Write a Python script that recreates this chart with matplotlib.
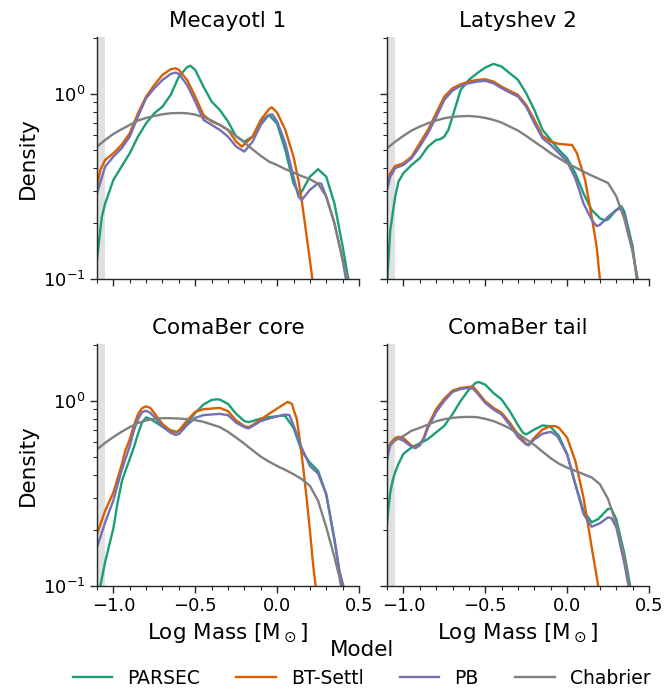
import matplotlib
matplotlib.use("Agg")
import matplotlib.pyplot as plt
from matplotlib.ticker import MultipleLocator, LogLocator, NullFormatter
from matplotlib.lines import Line2D

plt.rcParams['font.family'] = ['DejaVu Sans']

panels = ["Mecayotl 1", "Latyshev 2", "ComaBer core", "ComaBer tail"]
models = ["PARSEC", "BT-Settl", "PB", "Chabrier"]
colors = ["#1b9e77", "#d95f02", "#7570b3", "#808080"]

# (log mass, density) pairs
# ---- Mecayotl 1 ----
mec_parsec = [(-1.1, 0.127), (-1.08, 0.184), (-1.07, 0.217), (-1.05, 0.256), (-1.0, 0.343), (-0.95, 0.405),
              (-0.9, 0.478), (-0.85, 0.588), (-0.8, 0.694), (-0.75, 0.786), (-0.7, 0.854), (-0.65, 0.988),
              (-0.6, 1.24), (-0.55, 1.394), (-0.53, 1.42), (-0.5, 1.348), (-0.45, 1.095), (-0.4, 0.909),
              (-0.35, 0.819), (-0.3, 0.709), (-0.25, 0.588), (-0.2, 0.552), (-0.15, 0.588), (-0.1, 0.709),
              (-0.05, 0.770), (0.0, 0.690), (0.05, 0.498), (0.1, 0.329), (0.135, 0.287), (0.15, 0.296),
              (0.2, 0.357), (0.25, 0.392), (0.3, 0.357), (0.35, 0.256), (0.4, 0.150), (0.435, 0.1), (0.45, 0.08)]
mec_bts = [(-1.1, 0.316), (-1.08, 0.388), (-1.05, 0.440), (-1.0, 0.478), (-0.95, 0.530), (-0.9, 0.613),
           (-0.85, 0.786), (-0.8, 0.967), (-0.75, 1.118), (-0.7, 1.267), (-0.65, 1.36), (-0.62, 1.376),
           (-0.6, 1.348), (-0.55, 1.19), (-0.5, 0.967), (-0.45, 0.770), (-0.4, 0.709), (-0.35, 0.680),
           (-0.3, 0.639), (-0.25, 0.552), (-0.215, 0.519), (-0.15, 0.588), (-0.1, 0.724), (-0.05, 0.826),
           (-0.033, 0.847), (0.0, 0.793), (0.05, 0.639), (0.1, 0.458), (0.13, 0.343), (0.15, 0.267),
           (0.175, 0.184), (0.2, 0.127), (0.215, 0.1), (0.225, 0.085)]
mec_pb = [(-1.1, 0.290), (-1.05, 0.405), (-1.0, 0.458), (-0.95, 0.508), (-0.9, 0.588), (-0.85, 0.754),
          (-0.8, 0.948), (-0.75, 1.073), (-0.7, 1.19), (-0.65, 1.282), (-0.62, 1.304), (-0.6, 1.282),
          (-0.55, 1.118), (-0.5, 0.909), (-0.45, 0.724), (-0.4, 0.680), (-0.35, 0.639), (-0.3, 0.588),
          (-0.25, 0.519), (-0.2, 0.488), (-0.15, 0.552), (-0.1, 0.680), (-0.05, 0.770), (-0.03, 0.776),
          (0.0, 0.709), (0.05, 0.541), (0.1, 0.357), (0.13, 0.279), (0.15, 0.267), (0.2, 0.303),
          (0.25, 0.329), (0.27, 0.327), (0.3, 0.279), (0.35, 0.2), (0.4, 0.127), (0.42, 0.1), (0.43, 0.085)]
mec_chab = [(-1.1, 0.519), (-1.05, 0.564), (-1.0, 0.608), (-0.95, 0.644), (-0.9, 0.680), (-0.85, 0.718),
            (-0.8, 0.742), (-0.75, 0.760), (-0.7, 0.776), (-0.65, 0.786), (-0.6, 0.789), (-0.55, 0.786),
            (-0.5, 0.773), (-0.45, 0.748), (-0.4, 0.718), (-0.35, 0.680), (-0.3, 0.639), (-0.25, 0.593),
            (-0.2, 0.546), (-0.15, 0.502), (-0.1, 0.463), (-0.05, 0.431), (0.0, 0.413), (0.05, 0.392),
            (0.1, 0.376), (0.15, 0.360), (0.2, 0.346), (0.25, 0.327), (0.3, 0.279), (0.35, 0.2),
            (0.4, 0.127), (0.43, 0.1), (0.44, 0.085)]

# ---- Latyshev 2 ----
lat_parsec = [(-1.1, 0.095), (-1.08, 0.184), (-1.05, 0.279), (-1.03, 0.336), (-1.0, 0.373), (-0.95, 0.413),
              (-0.9, 0.449), (-0.85, 0.519), (-0.8, 0.564), (-0.775, 0.569), (-0.75, 0.588), (-0.725, 0.639),
              (-0.7, 0.754), (-0.65, 1.051), (-0.6, 1.19), (-0.55, 1.293), (-0.5, 1.388), (-0.45, 1.453),
              (-0.4, 1.405), (-0.35, 1.293), (-0.3, 1.19), (-0.25, 1.008), (-0.2, 0.819), (-0.15, 0.639),
              (-0.1, 0.564), (-0.05, 0.498), (0.0, 0.449), (0.05, 0.373), (0.1, 0.290), (0.15, 0.236),
              (0.2, 0.213), (0.23, 0.207), (0.25, 0.210), (0.3, 0.236), (0.33, 0.248), (0.35, 0.231),
              (0.4, 0.150), (0.425, 0.1), (0.44, 0.08)]
lat_bts = [(-1.1, 0.316), (-1.08, 0.373), (-1.05, 0.408), (-1.0, 0.422), (-0.95, 0.458), (-0.9, 0.541),
           (-0.85, 0.639), (-0.8, 0.786), (-0.75, 0.967), (-0.7, 1.073), (-0.65, 1.128), (-0.6, 1.166),
           (-0.55, 1.19), (-0.5, 1.20), (-0.45, 1.166), (-0.4, 1.095), (-0.35, 1.038), (-0.3, 0.988),
           (-0.25, 0.872), (-0.2, 0.724), (-0.15, 0.593), (-0.1, 0.552), (-0.05, 0.537), (0.0, 0.532),
           (0.03, 0.530), (0.06, 0.478), (0.11, 0.343), (0.15, 0.217), (0.18, 0.150), (0.2, 0.1), (0.21, 0.085)]
lat_pb = [(-1.1, 0.303), (-1.08, 0.357), (-1.05, 0.397), (-1.0, 0.413), (-0.95, 0.449), (-0.9, 0.519),
          (-0.85, 0.613), (-0.8, 0.748), (-0.75, 0.928), (-0.7, 1.042), (-0.65, 1.105), (-0.6, 1.142),
          (-0.55, 1.166), (-0.5, 1.176), (-0.45, 1.142), (-0.4, 1.073), (-0.35, 1.017), (-0.3, 0.967),
          (-0.25, 0.854), (-0.2, 0.694), (-0.15, 0.576), (-0.1, 0.530), (-0.05, 0.478), (0.0, 0.431),
          (0.05, 0.350), (0.1, 0.256), (0.15, 0.209), (0.18, 0.193), (0.2, 0.196), (0.25, 0.217),
          (0.3, 0.236), (0.33, 0.241), (0.35, 0.222), (0.4, 0.143), (0.43, 0.1), (0.44, 0.085)]
lat_chab = [(-1.1, 0.508), (-1.05, 0.552), (-1.0, 0.593), (-0.95, 0.634), (-0.9, 0.666), (-0.85, 0.694),
            (-0.8, 0.718), (-0.75, 0.739), (-0.7, 0.751), (-0.65, 0.757), (-0.6, 0.760), (-0.55, 0.754),
            (-0.5, 0.742), (-0.45, 0.724), (-0.4, 0.700), (-0.35, 0.666), (-0.3, 0.634), (-0.25, 0.593),
            (-0.2, 0.552), (-0.15, 0.515), (-0.1, 0.478), (-0.05, 0.449), (0.0, 0.422), (0.05, 0.401),
            (0.1, 0.380), (0.15, 0.362), (0.2, 0.346), (0.25, 0.33), (0.3, 0.28), (0.35, 0.21),
            (0.4, 0.14), (0.43, 0.1), (0.44, 0.085)]

# ---- ComaBer core ----
core_parsec = [(-1.09, 0.085), (-1.08, 0.1), (-1.05, 0.135), (-1.0, 0.205), (-0.975, 0.28), (-0.947, 0.372),
               (-0.9, 0.486), (-0.875, 0.561), (-0.85, 0.662), (-0.825, 0.765), (-0.8, 0.815), (-0.775, 0.80),
               (-0.75, 0.775), (-0.7, 0.725), (-0.65, 0.695), (-0.61, 0.679), (-0.55, 0.752), (-0.5, 0.862),
               (-0.45, 0.956), (-0.4, 1.012), (-0.37, 1.02), (-0.35, 1.017), (-0.3, 0.964), (-0.25, 0.851),
               (-0.2, 0.778), (-0.175, 0.768), (-0.15, 0.778), (-0.1, 0.803), (-0.05, 0.817), (0.0, 0.827),
               (0.03, 0.834), (0.05, 0.827), (0.1, 0.716), (0.15, 0.536), (0.2, 0.464), (0.25, 0.419),
               (0.3, 0.313), (0.35, 0.176), (0.38, 0.121), (0.4, 0.1), (0.41, 0.085)]
core_bts = [(-1.1, 0.191), (-1.05, 0.255), (-1.0, 0.320), (-0.978, 0.372), (-0.95, 0.45), (-0.927, 0.539),
            (-0.9, 0.62), (-0.875, 0.734), (-0.85, 0.846), (-0.825, 0.913), (-0.8, 0.935), (-0.775, 0.917),
            (-0.75, 0.86), (-0.7, 0.75), (-0.65, 0.69), (-0.62, 0.675), (-0.6, 0.69), (-0.55, 0.784),
            (-0.5, 0.873), (-0.45, 0.902), (-0.4, 0.909), (-0.35, 0.917), (-0.3, 0.880), (-0.25, 0.784),
            (-0.2, 0.731), (-0.175, 0.722), (-0.15, 0.740), (-0.1, 0.794), (-0.05, 0.851), (0.0, 0.909),
            (0.05, 0.971), (0.065, 0.988), (0.09, 0.964), (0.1, 0.898), (0.12, 0.80), (0.14, 0.60),
            (0.16, 0.43), (0.18, 0.30), (0.2, 0.20), (0.22, 0.13), (0.235, 0.1), (0.245, 0.085)]
core_pb = [(-1.1, 0.162), (-1.05, 0.221), (-1.0, 0.29), (-0.967, 0.372), (-0.95, 0.42), (-0.9, 0.57),
           (-0.875, 0.69), (-0.85, 0.795), (-0.825, 0.87), (-0.8, 0.885), (-0.775, 0.862), (-0.75, 0.82),
           (-0.7, 0.725), (-0.65, 0.672), (-0.62, 0.655), (-0.6, 0.662), (-0.55, 0.740), (-0.5, 0.810),
           (-0.45, 0.838), (-0.4, 0.845), (-0.35, 0.851), (-0.3, 0.838), (-0.25, 0.762), (-0.2, 0.722),
           (-0.175, 0.710), (-0.15, 0.731), (-0.1, 0.778), (-0.05, 0.803), (0.0, 0.824), (0.05, 0.845),
           (0.075, 0.838), (0.1, 0.740), (0.15, 0.559), (0.2, 0.445), (0.25, 0.405), (0.3, 0.313),
           (0.35, 0.180), (0.38, 0.121), (0.405, 0.1), (0.415, 0.085)]
core_chab = [(-1.1, 0.547), (-1.05, 0.594), (-1.0, 0.638), (-0.95, 0.681), (-0.9, 0.722), (-0.85, 0.759),
             (-0.8, 0.784), (-0.75, 0.800), (-0.7, 0.807), (-0.65, 0.807), (-0.6, 0.803), (-0.55, 0.797),
             (-0.5, 0.787), (-0.45, 0.771), (-0.4, 0.746), (-0.35, 0.722), (-0.3, 0.681), (-0.25, 0.633),
             (-0.2, 0.587), (-0.15, 0.541), (-0.1, 0.500), (-0.05, 0.470), (0.0, 0.445), (0.05, 0.424),
             (0.1, 0.402), (0.15, 0.378), (0.2, 0.348), (0.25, 0.289), (0.3, 0.208), (0.35, 0.143),
             (0.38, 0.112), (0.39, 0.1), (0.4, 0.085)]

# ---- ComaBer tail ----
tail_parsec = [(-1.1, 0.216), (-1.09, 0.27), (-1.08, 0.32), (-1.065, 0.372), (-1.05, 0.412), (-1.03, 0.457),
               (-1.0, 0.517), (-0.95, 0.561), (-0.9, 0.590), (-0.85, 0.622), (-0.8, 0.676), (-0.75, 0.734),
               (-0.7, 0.848), (-0.65, 1.0), (-0.6, 1.151), (-0.56, 1.25), (-0.54, 1.265), (-0.5, 1.224),
               (-0.45, 1.104), (-0.4, 1.017), (-0.35, 0.880), (-0.3, 0.740), (-0.27, 0.673), (-0.25, 0.659),
               (-0.2, 0.701), (-0.15, 0.737), (-0.115, 0.731), (-0.1, 0.722), (-0.05, 0.646), (0.0, 0.515),
               (0.05, 0.355), (0.1, 0.255), (0.15, 0.221), (0.19, 0.230), (0.25, 0.261), (0.27, 0.261),
               (0.3, 0.230), (0.35, 0.149), (0.385, 0.1), (0.395, 0.085)]
tail_bts = [(-1.1, 0.525), (-1.09, 0.561), (-1.08, 0.59), (-1.05, 0.630), (-1.03, 0.640), (-1.0, 0.630),
            (-0.95, 0.573), (-0.927, 0.561), (-0.9, 0.580), (-0.875, 0.635), (-0.85, 0.734), (-0.8, 0.902),
            (-0.75, 1.03), (-0.7, 1.137), (-0.65, 1.175), (-0.6, 1.19), (-0.575, 1.194), (-0.55, 1.127),
            (-0.5, 0.996), (-0.45, 0.917), (-0.4, 0.862), (-0.35, 0.762), (-0.3, 0.659), (-0.25, 0.587),
            (-0.235, 0.582), (-0.2, 0.633), (-0.15, 0.701), (-0.1, 0.731), (-0.075, 0.731), (-0.05, 0.716),
            (0.0, 0.633), (0.05, 0.474), (0.1, 0.301), (0.13, 0.208), (0.15, 0.162), (0.19, 0.1), (0.2, 0.085)]
tail_pb = [(-1.1, 0.474), (-1.09, 0.53), (-1.08, 0.575), (-1.05, 0.620), (-1.03, 0.625), (-1.0, 0.610),
           (-0.95, 0.565), (-0.927, 0.555), (-0.9, 0.575), (-0.875, 0.625), (-0.85, 0.715), (-0.8, 0.87),
           (-0.75, 1.0), (-0.7, 1.118), (-0.65, 1.16), (-0.6, 1.175), (-0.575, 1.165), (-0.55, 1.104),
           (-0.5, 0.976), (-0.45, 0.898), (-0.4, 0.845), (-0.35, 0.740), (-0.3, 0.638), (-0.25, 0.582),
           (-0.235, 0.575), (-0.2, 0.620), (-0.15, 0.665), (-0.1, 0.681), (-0.06, 0.646), (0.0, 0.515),
           (0.05, 0.355), (0.1, 0.245), (0.15, 0.209), (0.2, 0.218), (0.25, 0.235), (0.27, 0.233),
           (0.3, 0.208), (0.35, 0.132), (0.375, 0.1), (0.385, 0.085)]
tail_chab = [(-1.1, 0.559), (-1.05, 0.612), (-1.0, 0.646), (-0.95, 0.69), (-0.9, 0.715), (-0.85, 0.745),
             (-0.8, 0.776), (-0.75, 0.797), (-0.7, 0.810), (-0.65, 0.817), (-0.6, 0.820), (-0.55, 0.817),
             (-0.5, 0.800), (-0.45, 0.778), (-0.4, 0.746), (-0.35, 0.710), (-0.3, 0.665), (-0.25, 0.620),
             (-0.2, 0.578), (-0.15, 0.532), (-0.1, 0.490), (-0.05, 0.458), (0.0, 0.436), (0.05, 0.419),
             (0.1, 0.402), (0.15, 0.386), (0.2, 0.355), (0.25, 0.295), (0.3, 0.216), (0.35, 0.143),
             (0.37, 0.112), (0.38, 0.1), (0.39, 0.085)]

data = [
    [mec_parsec, mec_bts, mec_pb, mec_chab],
    [lat_parsec, lat_bts, lat_pb, lat_chab],
    [core_parsec, core_bts, core_pb, core_chab],
    [tail_parsec, tail_bts, tail_pb, tail_chab],
]

W, H = 667, 693
fig = plt.figure(figsize=(W / 100, H / 100), dpi=100)
boxes = [(97, 37), (387, 37), (97, 344), (387, 344)]
aw, ah = 262, 242

axes = []
for px, py in boxes:
    ax = fig.add_axes([px / W, 1 - (py + ah) / H, aw / W, ah / H])
    axes.append(ax)

for i, ax in enumerate(axes):
    ax.axvspan(-1.1, -1.05, color="#e0e0e0", zorder=0, lw=0)
    for series, c in zip(data[i], colors):
        xs = [p[0] for p in series]
        ys = [p[1] for p in series]
        ax.plot(xs, ys, color=c, lw=1.7, solid_capstyle='round', solid_joinstyle='round')
    ax.set_yscale('log')
    ax.set_xlim(-1.1, 0.5)
    ax.set_ylim(0.1, 2.03)
    ax.set_title(panels[i], fontsize=15.5, pad=7)
    for s in ['top', 'right']:
        ax.spines[s].set_visible(False)
    for s in ['left', 'bottom']:
        ax.spines[s].set_linewidth(1.0)
        ax.spines[s].set_color('#262626')
    ax.xaxis.set_major_locator(MultipleLocator(0.5))
    ax.xaxis.set_minor_locator(MultipleLocator(0.1))
    ax.yaxis.set_major_locator(LogLocator(base=10, numticks=5))
    ax.yaxis.set_minor_locator(LogLocator(base=10, subs=range(2, 10), numticks=20))
    ax.yaxis.set_minor_formatter(NullFormatter())
    ax.tick_params(which='major', length=4.7, width=1.0, labelsize=13, color='#262626')
    ax.tick_params(which='minor', length=2.9, width=0.8, color='#262626')
    if i in (0, 1):
        ax.tick_params(labelbottom=False)
    else:
        ax.set_xlabel(r'Log Mass [M$_\odot$]', fontsize=15.5)
    if i in (1, 3):
        ax.tick_params(labelleft=False)
    else:
        ax.set_ylabel('Density', fontsize=15.5)

handles = [Line2D([], [], color=c, lw=1.7) for c in colors]
fig.legend(handles, models, loc='lower center', bbox_to_anchor=(0.542, -0.017),
           ncol=4, frameon=False, fontsize=13.5, title='Model', title_fontsize=15.5,
           columnspacing=1.95, handlelength=2.1)

fig.savefig('out.png', dpi=100)
